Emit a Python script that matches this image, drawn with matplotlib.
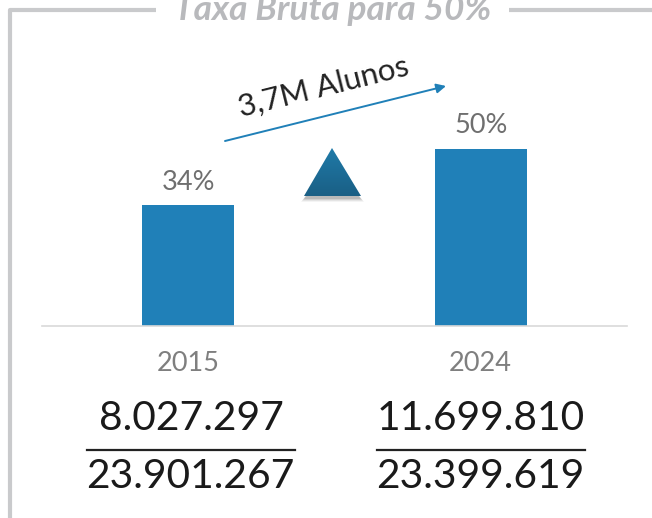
import numpy as np
import matplotlib
matplotlib.use("Agg")
import matplotlib.pyplot as plt
from matplotlib.patches import Polygon

years = ["2015", "2024"]
rates = [34, 50]
numerators = ["8.027.297", "11.699.810"]
denominators = ["23.901.267", "23.399.619"]
title = "Taxa Bruta para 50%"
arrow_text = "3,7M Alunos"

W, H = 652, 518
plt.rcParams['font.family'] = ['Lato', 'DejaVu Sans']

fig = plt.figure(figsize=(W / 100, H / 100), dpi=100)

# overlay in pixel coordinates for frame and annotations
bg = fig.add_axes([0, 0, 1, 1])
bg.set_xlim(0, W)
bg.set_ylim(H, 0)
bg.axis("off")

# frame with gap for the title
frame = "#c9cacc"
bg.plot([156, 10, 10], [10, 10, H], color=frame, lw=3, solid_capstyle="butt")
bg.plot([509, W], [10, 10], color=frame, lw=3, solid_capstyle="butt")
bg.text(333, 10, title, ha="center", va="center", fontsize=25.4, color="#b8b9bc",
        style="italic", fontweight="bold")

# bar chart, y scaled so 50% reaches pixel 148 from baseline 326
ax = fig.add_axes([42 / W, 1 - 326 / H, (627 - 42) / W, 177.5 / H])
ax.set_facecolor("none")
x = np.arange(len(years))
ax.bar(x, rates, width=0.315, color="#2080b8")
ax.set_xlim(-0.5, 1.5)
ax.set_ylim(0, 50)
ax.set_yticks([])
ax.set_xticks(x)
ax.set_xticklabels(years, fontsize=19.5, color="#7f7f7f")
ax.tick_params(axis="x", length=0, pad=18)
for s in ["top", "left", "right"]:
    ax.spines[s].set_visible(False)
ax.spines["bottom"].set_color("#d9d9d9")
ax.spines["bottom"].set_linewidth(1.2)
for i, r in enumerate(rates):
    ax.annotate(f"{r}%", (x[i], r), xytext=(0, 7.5), textcoords="offset points",
                ha="center", va="bottom", fontsize=19.5, color="#6f6f6f", clip_on=False)

# fractions under the years
for cx, n, d in zip([188, 478], numerators, denominators):
    bg.text(cx + 3, 419, n, ha="center", va="center", fontsize=29.3, color="#1a1a1a")
    bg.text(cx + 2, 477, d, ha="center", va="center", fontsize=29.3, color="#1a1a1a")
    bg.plot([cx - 101, cx + 107], [450, 450], color="#222222", lw=1.6)

# growth arrow and label
bg.annotate("", xy=(446, 86), xytext=(225, 141),
            arrowprops=dict(arrowstyle="-|>", color="#2080b8", lw=1.4, mutation_scale=14,
                            shrinkA=0, shrinkB=0))
bg.text(324, 87, arrow_text, ha="center", va="center", fontsize=22.5, color="#222222",
        rotation=14, rotation_mode="anchor")

# triangle marker with a soft shadow
for grow, alpha in [(3, 0.08), (2, 0.12), (1, 0.18), (0, 0.25)]:
    bg.add_patch(Polygon([[304 - grow, 199 + grow], [361 + grow, 199 + grow], [332, 160]],
                         closed=True, color="#777777", alpha=alpha, lw=0))
grad = np.linspace(0, 1, 64).reshape(-1, 1)
cmap = matplotlib.colors.LinearSegmentedColormap.from_list("t", ["#1f7aa8", "#1a5f85"])
im = bg.imshow(grad, extent=[304, 361, 196, 148], cmap=cmap, aspect="auto", zorder=3)
clip = Polygon([[304, 196], [361, 196], [332, 148]], closed=True, transform=bg.transData)
im.set_clip_path(clip)
bg.set_xlim(0, W)
bg.set_ylim(H, 0)

fig.savefig("out.png", dpi=100)
